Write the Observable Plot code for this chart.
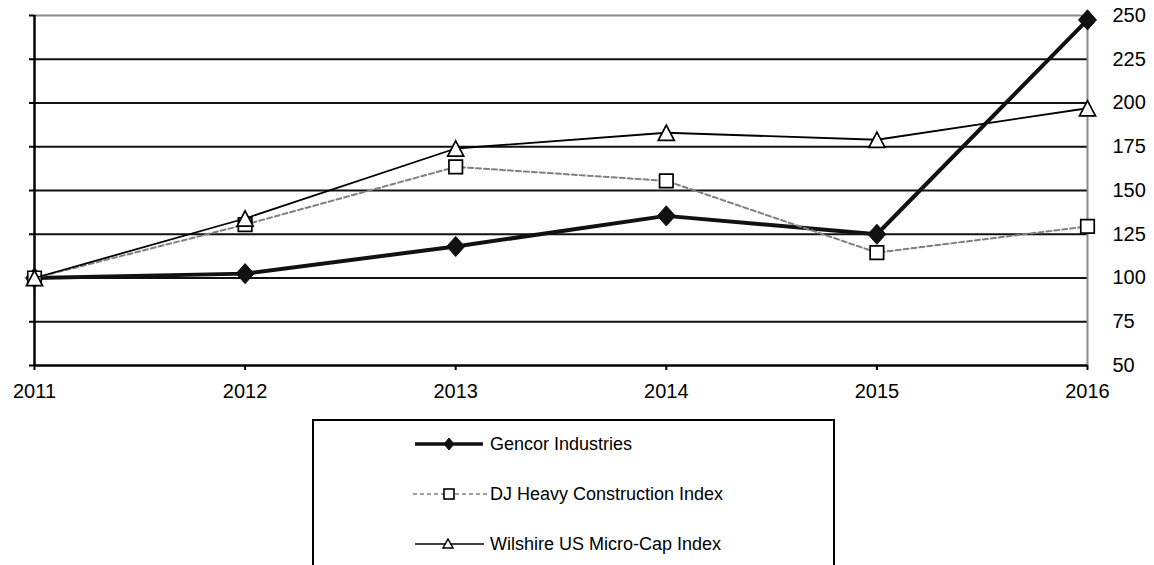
<!DOCTYPE html>
<html>
<head>
<meta charset="utf-8">
<script src="https://cdn.jsdelivr.net/npm/d3@7"></script>
<script src="https://cdn.jsdelivr.net/npm/@observablehq/plot@0.6"></script>
<style>
  html, body { margin: 0; padding: 0; background: #fff; overflow: hidden; }
  #wrap { position: relative; width: 1154px; height: 565px; font-family: "Liberation Sans", Arial, sans-serif; }
  #legend { position: absolute; left: 312px; top: 419px; width: 519px; height: 200px;
            border: 2px solid #000; border-bottom: none; box-sizing: content-box; }
  .row { position: absolute; left: 0; height: 24px; width: 100%; }
  .row svg { position: absolute; left: 99px; top: 0; }
  .row span { position: absolute; left: 176px; top: 1px; font-size: 18px; line-height: 22px; color: #000; white-space: nowrap; }
</style>
</head>
<body>
<div id="wrap">
  <div id="chart"></div>
  <div id="legend"></div>
</div>
<script>
const years = [2011, 2012, 2013, 2014, 2015, 2016];
const gencor = [100, 102.5, 118, 135.5, 125, 247.5];
const djHeavy = [100, 130.5, 163.5, 155.5, 114.5, 129.5];
const wilshire = [100, 134, 174, 183, 179, 197];
const seriesNames = ["Gencor Industries", "DJ Heavy Construction Index", "Wilshire US Micro-Cap Index"];
const yTicks = [50, 75, 100, 125, 150, 175, 200, 225, 250];
const gridValues = [75, 100, 125, 150, 175, 200, 225];

const toRows = (vals) => years.map((year, i) => ({year, value: vals[i]}));

// custom symbols centred on their bounding box
const diamondSym = { draw(ctx, size) { const a = Math.sqrt(size / Math.PI); const b = a * 1.12;
  ctx.moveTo(0, -b); ctx.lineTo(a, 0); ctx.lineTo(0, b); ctx.lineTo(-a, 0); ctx.closePath(); } };
const squareSym = { draw(ctx, size) { const a = Math.sqrt(size / Math.PI);
  ctx.moveTo(-a, -a); ctx.lineTo(a, -a); ctx.lineTo(a, a); ctx.lineTo(-a, a); ctx.closePath(); } };
const triangleSym = { draw(ctx, size) { const a = Math.sqrt(size / Math.PI); const h = a * 0.95;
  ctx.moveTo(0, -h); ctx.lineTo(a, h); ctx.lineTo(-a, h); ctx.closePath(); } };

const chart = Plot.plot({
  width: 1154,
  height: 410,
  marginLeft: 34,
  marginRight: 67,
  marginTop: 15,
  marginBottom: 45,
  x: {domain: [2011, 2016]},
  y: {domain: [50, 250]},
  style: {fontFamily: '"Liberation Sans", Arial, sans-serif', fontSize: "20px", color: "#000", background: "#fff", overflow: "visible"},
  marks: [
    Plot.ruleY(gridValues, {stroke: "#111", strokeWidth: 2}),
    Plot.ruleY([250], {stroke: "#8a8a8a", strokeWidth: 2}),
    Plot.ruleX([2016], {stroke: "#8a8a8a", strokeWidth: 2}),
    Plot.axisY({anchor: "left", ticks: yTicks, tickSize: 5, tickFormat: () => "", stroke: "#000", strokeWidth: 2, label: null}),
    Plot.ruleX([2011], {stroke: "#000", strokeWidth: 2.5}),
    Plot.ruleY([50], {stroke: "#000", strokeWidth: 2.5}),
    Plot.axisX({ticks: years, tickSize: 5, tickPadding: 13, tickFormat: d => String(d), fontSize: 20, stroke: "#000", strokeWidth: 2, label: null}),
    Plot.axisY({anchor: "right", ticks: yTicks, tickSize: 0, tickPadding: 25, fontSize: 20, label: null}),
    // Gencor
    Plot.line(toRows(gencor), {x: "year", y: "value", stroke: "#111", strokeWidth: 4}),
    Plot.dot(toRows(gencor), {x: "year", y: "value", symbol: diamondSym, r: 9, fill: "#111", stroke: "#111", strokeWidth: 1}),
    // DJ Heavy Construction
    Plot.line(toRows(djHeavy), {x: "year", y: "value", stroke: "#808080", strokeWidth: 2, strokeDasharray: "5,3"}),
    Plot.dot(toRows(djHeavy), {x: "year", y: "value", symbol: squareSym, r: 6.75, fill: "#fff", stroke: "#000", strokeWidth: 1.7}),
    // Wilshire
    Plot.line(toRows(wilshire), {x: "year", y: "value", stroke: "#000", strokeWidth: 1.8}),
    Plot.dot(toRows(wilshire), {x: "year", y: "value", symbol: triangleSym, r: 8, fill: "#fff", stroke: "#000", strokeWidth: 1.7})
  ]
});
document.getElementById("chart").appendChild(chart);

// legend
const legend = document.getElementById("legend");
const rowTops = [11, 61, 111];
const samples = [
  `<line x1="2" y1="12" x2="70" y2="12" stroke="#111" stroke-width="3.5"/>
   <path d="M36,6 L41,12 L36,18 L31,12 Z" fill="#111" stroke="#111"/>`,
  `<line x1="0" y1="12" x2="75" y2="12" stroke="#808080" stroke-width="1.5" stroke-dasharray="4,3"/>
   <rect x="31" y="7" width="10" height="10" fill="#fff" stroke="#000" stroke-width="1.6"/>`,
  `<line x1="2" y1="12" x2="71" y2="12" stroke="#000" stroke-width="1.6"/>
   <path d="M35,7 L40,16 L30,16 Z" fill="#fff" stroke="#000" stroke-width="1.5"/>`
];
seriesNames.forEach((name, i) => {
  const row = document.createElement("div");
  row.className = "row";
  row.style.top = rowTops[i] + "px";
  row.innerHTML = `<svg width="80" height="24">${samples[i]}</svg><span>${name}</span>`;
  legend.appendChild(row);
});
</script>
</body>
</html>
